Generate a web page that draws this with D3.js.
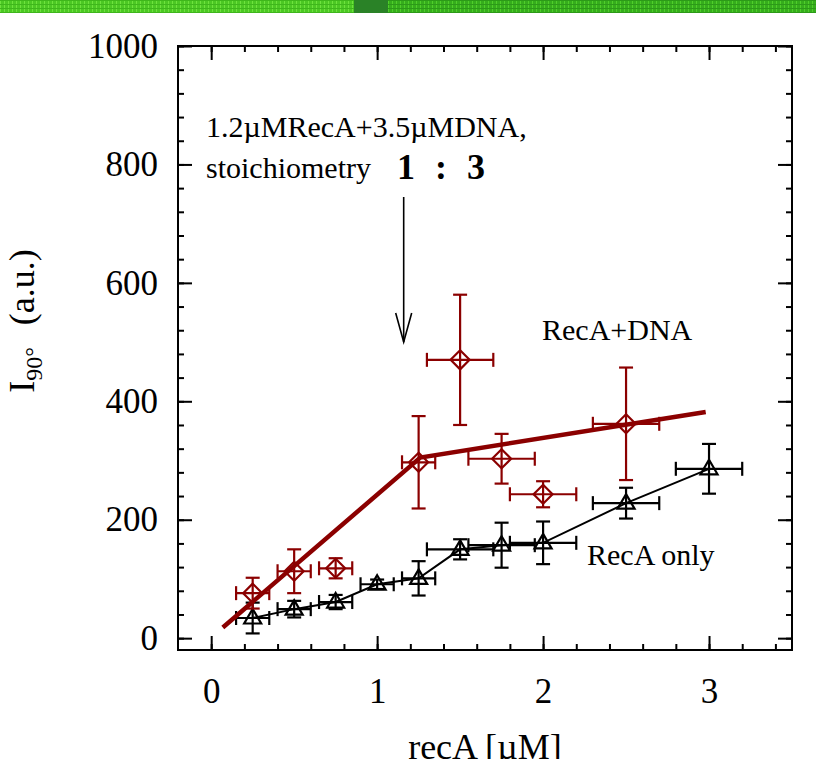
<!DOCTYPE html>
<html>
<head>
<meta charset="utf-8">
<script src="https://cdn.jsdelivr.net/npm/d3@7"></script>
<style>
  body { margin: 0; background: #fff; }
  svg { display: block; }
  text { font-family: "Liberation Serif", "Times New Roman", serif; fill: #000; }
</style>
</head>
<body>
<div id="chart"></div>
<script>
// RecA + DNA (red diamonds)
var dnaX    = [0.25, 0.5, 0.75, 1.25, 1.5, 1.75, 2.0, 2.5];
var dnaY    = [76, 113, 118, 297, 470, 303, 243, 362];
var dnaYErr = [26, 37, 17, 78, 110, 42, 22, 95];
var dnaXErr = [0.1, 0.1, 0.1, 0.1, 0.2, 0.2, 0.2, 0.2];

// RecA only (black triangles)
var onlyX    = [0.25, 0.5, 0.75, 1.0, 1.25, 1.5, 1.75, 2.0, 2.5, 3.0];
var onlyY    = [34, 49, 61, 91, 101, 150, 157, 161, 228, 286];
var onlyYErr = [26, 14, 12, 8, 29, 17, 38, 36, 26, 42];
var onlyXErr = [0.1, 0.1, 0.1, 0.1, 0.1, 0.2, 0.2, 0.2, 0.2, 0.2];

// broken-line fit through RecA+DNA
var fitX = [0.07, 1.26, 2.98];
var fitY = [18, 305, 382];

var xMajor = [0, 1, 2, 3];
var yMajor = [0, 200, 400, 600, 800, 1000];

var W = 816, H = 759;
var red = "#8b0000";

var svg = d3.select("#chart").append("svg")
    .attr("width", W)
    .attr("height", H);

// green banner strip at the top
var defs = svg.append("defs");
var pat = defs.append("pattern")
    .attr("id", "plaid")
    .attr("width", 4).attr("height", 4)
    .attr("patternUnits", "userSpaceOnUse");
pat.append("rect").attr("width", 4).attr("height", 4).attr("fill", "#4cc824");
pat.append("rect").attr("width", 1).attr("height", 4).attr("fill", "#6ee23e");
pat.append("rect").attr("width", 4).attr("height", 1).attr("fill", "#3fb61c");
var pat2 = defs.append("pattern")
    .attr("id", "plaid2")
    .attr("width", 4).attr("height", 4)
    .attr("patternUnits", "userSpaceOnUse");
pat2.append("rect").attr("width", 4).attr("height", 4).attr("fill", "#36ad1d");
pat2.append("rect").attr("width", 1).attr("height", 4).attr("fill", "#4fcf2a");
pat2.append("rect").attr("width", 4).attr("height", 1).attr("fill", "#2c9a18");

svg.append("rect").attr("x", 0).attr("y", 0).attr("width", 354).attr("height", 13).attr("fill", "url(#plaid)");
svg.append("rect").attr("x", 354).attr("y", 0).attr("width", 34).attr("height", 13).attr("fill", "#2a8227");
svg.append("rect").attr("x", 388).attr("y", 0).attr("width", W - 388).attr("height", 13).attr("fill", "url(#plaid2)");

// scales
var x = d3.scaleLinear().domain([-0.2, 3.5]).range([178, 792]);
var y = d3.scaleLinear().domain([-20, 1000]).range([650, 46]);

var xMinor = d3.range(0, 3.45, 0.2);
var yMinor = d3.range(0, 1001, 40);

function styleAxis(g) {
  g.select(".domain").remove();
  g.selectAll(".tick line").attr("stroke", "#000").attr("stroke-width", 2);
}

// minor ticks on all four sides
svg.append("g").attr("transform", "translate(0,650)")
  .call(d3.axisBottom(x).tickValues(xMinor).tickSize(-6).tickFormat(""))
  .call(styleAxis);
svg.append("g").attr("transform", "translate(0,46)")
  .call(d3.axisTop(x).tickValues(xMinor).tickSize(-6).tickFormat(""))
  .call(styleAxis);
svg.append("g").attr("transform", "translate(178,0)")
  .call(d3.axisLeft(y).tickValues(yMinor).tickSize(-6).tickFormat(""))
  .call(styleAxis);
svg.append("g").attr("transform", "translate(792,0)")
  .call(d3.axisRight(y).tickValues(yMinor).tickSize(-6).tickFormat(""))
  .call(styleAxis);

// major ticks + labels
var xAxis = svg.append("g").attr("transform", "translate(0,650)")
  .call(d3.axisBottom(x).tickValues(xMajor).tickSize(-14).tickPadding(28).tickFormat(d3.format("d")))
  .call(styleAxis);
xAxis.selectAll("text").style("font-size", "35px").attr("font-family", null);

svg.append("g").attr("transform", "translate(0,46)")
  .call(d3.axisTop(x).tickValues(xMajor).tickSize(-14).tickFormat(""))
  .call(styleAxis);

var yAxis = svg.append("g").attr("transform", "translate(178,0)")
  .call(d3.axisLeft(y).tickValues(yMajor).tickSize(-14).tickPadding(20).tickFormat(d3.format("d")))
  .call(styleAxis);
yAxis.selectAll("text").style("font-size", "35px").attr("font-family", null);

svg.append("g").attr("transform", "translate(792,0)")
  .call(d3.axisRight(y).tickValues(yMajor).tickSize(-14).tickFormat(""))
  .call(styleAxis);

// frame
svg.append("rect")
    .attr("x", 178).attr("y", 46)
    .attr("width", 792 - 178).attr("height", 650 - 46)
    .attr("fill", "none")
    .attr("stroke", "#000")
    .attr("stroke-width", 2);

// axis titles
svg.append("text")
    .attr("x", 485).attr("y", 759)
    .attr("text-anchor", "middle")
    .style("font-size", "36px")
    .text("recA [µM]");

var yt = svg.append("text")
    .attr("transform", "translate(34,321) rotate(-90)")
    .attr("text-anchor", "middle")
    .style("font-size", "36px");
yt.append("tspan").text("I");
yt.append("tspan").attr("dy", 8).style("font-size", "24px").text("90°");
yt.append("tspan").attr("dy", -8).attr("dx", 22).text("(a.u.)");

// error bars helper
function errorBars(xs, ys, xe, ye, color, width) {
  var g = svg.append("g").attr("stroke", color).attr("stroke-width", width).attr("fill", "none");
  var cap = 7;
  xs.forEach(function(xv, i) {
    var cx = x(xv), cy = y(ys[i]);
    var y0 = y(ys[i] - ye[i]), y1 = y(ys[i] + ye[i]);
    var x0 = x(xv - xe[i]), x1 = x(xv + xe[i]);
    g.append("line").attr("x1", cx).attr("x2", cx).attr("y1", y0).attr("y2", y1);
    g.append("line").attr("x1", cx - cap).attr("x2", cx + cap).attr("y1", y0).attr("y2", y0);
    g.append("line").attr("x1", cx - cap).attr("x2", cx + cap).attr("y1", y1).attr("y2", y1);
    g.append("line").attr("x1", x0).attr("x2", x1).attr("y1", cy).attr("y2", cy);
    g.append("line").attr("x1", x0).attr("x2", x0).attr("y1", cy - cap).attr("y2", cy + cap);
    g.append("line").attr("x1", x1).attr("x2", x1).attr("y1", cy - cap).attr("y2", cy + cap);
  });
}

// RecA only: connecting line, error bars, triangles
var line = d3.line().x(function(d) { return x(d[0]); }).y(function(d) { return y(d[1]); });
svg.append("path")
    .datum(d3.zip(onlyX, onlyY))
    .attr("d", line)
    .attr("fill", "none")
    .attr("stroke", "#000")
    .attr("stroke-width", 2);
errorBars(onlyX, onlyY, onlyXErr, onlyYErr, "#000", 2.2);
svg.append("g").selectAll("path")
    .data(d3.zip(onlyX, onlyY))
    .enter().append("path")
    .attr("transform", function(d) { return "translate(" + x(d[0]) + "," + y(d[1]) + ")"; })
    .attr("d", "M0,-9L8.5,5.5L-8.5,5.5Z")
    .attr("fill", "none")
    .attr("stroke", "#000")
    .attr("stroke-width", 2.2);

// RecA+DNA: error bars, diamonds, fit line
errorBars(dnaX, dnaY, dnaXErr, dnaYErr, red, 2.2);
svg.append("g").selectAll("path")
    .data(d3.zip(dnaX, dnaY))
    .enter().append("path")
    .attr("transform", function(d) { return "translate(" + x(d[0]) + "," + y(d[1]) + ")"; })
    .attr("d", "M0,-9.5L9.5,0L0,9.5L-9.5,0Z")
    .attr("fill", "none")
    .attr("stroke", red)
    .attr("stroke-width", 2.2);

svg.append("path")
    .datum(d3.zip(fitX, fitY))
    .attr("d", line)
    .attr("fill", "none")
    .attr("stroke", red)
    .attr("stroke-width", 4.5);

// annotation
svg.append("text").attr("x", 206).attr("y", 137).style("font-size", "30px")
    .text("1.2µMRecA+3.5µMDNA,");
svg.append("text").attr("x", 206).attr("y", 178).style("font-size", "30px")
    .text("stoichiometry");
var ratio = [["1", 406], [":", 441], ["3", 476]];
svg.selectAll(".ratio").data(ratio).enter().append("text")
    .attr("class", "ratio")
    .attr("x", function(d) { return d[1]; })
    .attr("y", 179)
    .attr("text-anchor", "middle")
    .style("font-size", "36px")
    .style("font-weight", "bold")
    .text(function(d) { return d[0]; });

// arrow pointing at the 1:3 stoichiometry
var ax = x(1.16), aTop = y(745), aTip = y(500);
var arrow = svg.append("g").attr("stroke", "#000").attr("stroke-width", 1.6).attr("fill", "none");
arrow.append("line").attr("x1", ax).attr("x2", ax).attr("y1", aTop).attr("y2", aTip);
arrow.append("path").attr("d", "M" + (ax - 8) + "," + (aTip - 29) + "L" + ax + "," + aTip + "L" + (ax + 8) + "," + (aTip - 29));

// series labels
svg.append("text").attr("x", 542).attr("y", 340).style("font-size", "30px").text("RecA+DNA");
svg.append("text").attr("x", 587).attr("y", 565).style("font-size", "30px").text("RecA only");
</script>
</body>
</html>
